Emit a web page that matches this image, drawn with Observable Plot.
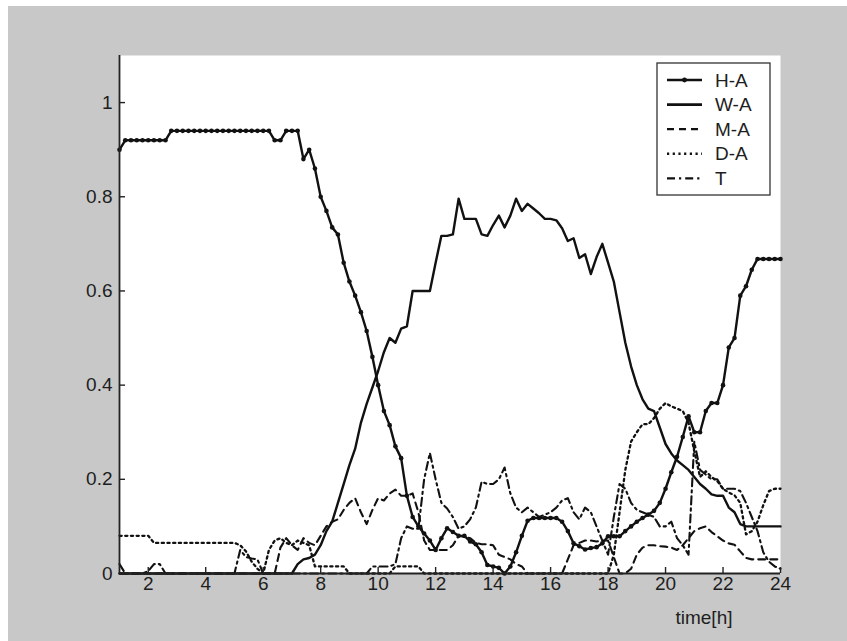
<!DOCTYPE html>
<html>
<head>
<meta charset="utf-8">
<script src="https://cdn.jsdelivr.net/npm/d3@7"></script>
<script src="https://cdn.jsdelivr.net/npm/@observablehq/plot@0.6"></script>
<style>
  html, body { margin: 0; padding: 0; background: #ffffff; }
  #fig { position: absolute; left: 0; top: 0; width: 847px; height: 641px; overflow: hidden; }
  #fig .bg { position: absolute; left: 8px; top: 6px; right: 0; bottom: 0; background: #c8c8c8; }
  #chart { position: absolute; left: 0; top: 0; }
</style>
</head>
<body>
<div id="fig"><div class="bg"></div><div id="chart"></div></div>
<script>
// Sample times: one reading every 12 minutes from 1 h to 24 h.
const time = d3.range(116).map(i => +(1 + i * 0.2).toFixed(1));

// Share of each activity over the day (five readings per hour, then 24.0).
const H_A = [
  0.90, 0.92, 0.92, 0.92, 0.92,
  0.92, 0.92, 0.92, 0.92, 0.94,
  0.94, 0.94, 0.94, 0.94, 0.94,
  0.94, 0.94, 0.94, 0.94, 0.94,
  0.94, 0.94, 0.94, 0.94, 0.94,
  0.94, 0.94, 0.92, 0.92, 0.94,
  0.94, 0.94, 0.88, 0.90, 0.86,
  0.80, 0.77, 0.735, 0.72, 0.66,
  0.62, 0.59, 0.555, 0.515, 0.46,
  0.40, 0.345, 0.315, 0.27, 0.245,
  0.165, 0.12, 0.10, 0.085, 0.07,
  0.05, 0.075, 0.096, 0.088, 0.08,
  0.08, 0.068, 0.062, 0.045, 0.018,
  0.015, 0.012, 0.0, 0.015, 0.045,
  0.08, 0.112, 0.118, 0.118, 0.118,
  0.118, 0.118, 0.11, 0.09, 0.064,
  0.058, 0.051, 0.054, 0.056, 0.064,
  0.079, 0.079, 0.079, 0.09, 0.10,
  0.11, 0.118, 0.125, 0.133, 0.15,
  0.18, 0.215, 0.248, 0.29, 0.334,
  0.30, 0.30, 0.345, 0.362, 0.362,
  0.40, 0.48, 0.50, 0.59, 0.61,
  0.645, 0.668, 0.668, 0.668, 0.668,
  0.668
];

const W_A = [
  0, 0, 0, 0, 0,
  0, 0, 0, 0, 0,
  0, 0, 0, 0, 0,
  0, 0, 0, 0, 0,
  0, 0, 0, 0, 0,
  0, 0, 0, 0, 0,
  0, 0.02, 0.03, 0.033, 0.04,
  0.06, 0.09, 0.11, 0.15, 0.19,
  0.23, 0.265, 0.32, 0.36, 0.395,
  0.43, 0.47, 0.50, 0.49, 0.52,
  0.525, 0.60, 0.60, 0.60, 0.60,
  0.66, 0.717, 0.717, 0.72, 0.796,
  0.753, 0.753, 0.753, 0.72, 0.717,
  0.74, 0.76, 0.735, 0.76, 0.796,
  0.77, 0.785, 0.775, 0.765, 0.753,
  0.753, 0.75, 0.733, 0.706, 0.712,
  0.67, 0.678, 0.636, 0.672, 0.70,
  0.66, 0.62, 0.555, 0.49, 0.44,
  0.40, 0.37, 0.35, 0.345, 0.31,
  0.275, 0.255, 0.24, 0.23, 0.22,
  0.205, 0.19, 0.18, 0.168, 0.165,
  0.165, 0.14, 0.13, 0.105, 0.10,
  0.10, 0.10, 0.10, 0.10, 0.10,
  0.10
];

const M_A = [
  0, 0, 0, 0, 0,
  0, 0, 0, 0, 0,
  0, 0, 0, 0, 0,
  0, 0, 0, 0, 0,
  0, 0, 0, 0, 0,
  0, 0, 0, 0.055, 0.075,
  0.06, 0.05, 0.075, 0.065, 0.06,
  0.08, 0.10, 0.11, 0.115, 0.135,
  0.15, 0.16, 0.13, 0.105, 0.135,
  0.16, 0.155, 0.17, 0.178, 0.165,
  0.165, 0.17, 0.13, 0.07, 0.05,
  0.05, 0.05, 0.05, 0.06, 0.08,
  0.078, 0.075, 0.065, 0.062, 0.062,
  0.06, 0.04, 0.035, 0.03, 0.02,
  0.015, 0, 0, 0, 0,
  0, 0, 0, 0.03, 0.06,
  0.065, 0.07, 0.07, 0.068, 0.07,
  0.07, 0.035, 0, 0, 0.01,
  0.04, 0.055, 0.06, 0.06, 0.058,
  0.057, 0.055, 0.05, 0.06, 0.075,
  0.09, 0.096, 0.10, 0.088, 0.079,
  0.07, 0.064, 0.061, 0.047, 0.033,
  0.03, 0.03, 0.03, 0.03, 0.03,
  0.03
];

const D_A = [
  0.08, 0.08, 0.08, 0.08, 0.08,
  0.08, 0.065, 0.065, 0.065, 0.065,
  0.065, 0.065, 0.065, 0.065, 0.065,
  0.065, 0.065, 0.065, 0.065, 0.065,
  0.065, 0.06, 0.047, 0.025, 0.01,
  0, 0.05, 0.07, 0.075, 0.065,
  0.06, 0.07, 0.065, 0.06, 0.015,
  0.015, 0.015, 0.015, 0.015, 0.015,
  0, 0, 0, 0, 0,
  0, 0, 0, 0.015, 0.015,
  0.015, 0.015, 0.015, 0, 0,
  0, 0, 0, 0, 0,
  0, 0, 0, 0, 0,
  0, 0, 0, 0, 0,
  0, 0, 0, 0, 0,
  0, 0, 0, 0, 0,
  0, 0, 0, 0, 0,
  0, 0.04, 0.13, 0.22, 0.28,
  0.30, 0.317, 0.317, 0.33, 0.35,
  0.362, 0.355, 0.35, 0.345, 0.32,
  0.26, 0.205, 0.217, 0.205, 0.196,
  0.18, 0.172, 0.166, 0.15, 0.083,
  0.09, 0.11, 0.145, 0.175, 0.18,
  0.18
];

const T = [
  0.02, 0, 0, 0, 0,
  0.005, 0.02, 0.02, 0, 0,
  0, 0, 0, 0, 0,
  0, 0, 0, 0, 0,
  0, 0.05, 0.035, 0.032, 0.03,
  0, 0, 0, 0, 0,
  0, 0, 0, 0, 0,
  0, 0, 0, 0, 0,
  0, 0, 0, 0, 0.015,
  0.015, 0.015, 0.015, 0.02, 0.075,
  0.10, 0.095, 0.095, 0.20, 0.256,
  0.20, 0.15, 0.138, 0.12, 0.095,
  0.10, 0.115, 0.14, 0.195, 0.19,
  0.19, 0.20, 0.225, 0.17, 0.14,
  0.13, 0.14, 0.13, 0.12, 0.125,
  0.13, 0.14, 0.155, 0.16, 0.13,
  0.115, 0.14, 0.13, 0.10, 0.07,
  0.04, 0.12, 0.19, 0.18, 0.15,
  0.135, 0.13, 0.125, 0.12, 0.10,
  0.10, 0.11, 0.075, 0.06, 0.04,
  0.28, 0.22, 0.21, 0.20, 0.20,
  0.18, 0.18, 0.18, 0.175, 0.15,
  0.12, 0.09, 0.045, 0.025, 0.015,
  0.01
];

const seriesNames = ["H-A", "W-A", "M-A", "D-A", "T"];
const xTicks = [2, 4, 6, 8, 10, 12, 14, 16, 18, 20, 22, 24];
const yTicks = [0, 0.2, 0.4, 0.6, 0.8, 1];
const yTickLabels = ["0", "0.2", "0.4", "0.6", "0.8", "1"];
const xLabel = "time[h]";

// Line styles per series
const styles = {
  "H-A": {dash: null, width: 2.4, marker: true},
  "W-A": {dash: null, width: 2.4, marker: false},
  "M-A": {dash: "7,5", width: 2.1, marker: false},
  "D-A": {dash: "2.2,3.5", width: 2.3, marker: false},
  "T":   {dash: "8,4,2.2,4", width: 2.1, marker: false}
};

const valuesByName = {"H-A": H_A, "W-A": W_A, "M-A": M_A, "D-A": D_A, "T": T};
const rowsFor = name => valuesByName[name].map((v, i) => ({t: time[i], v}));

const ink = "#111111";
const textInk = "#1e1e1e";
const font = "'Liberation Sans', Arial, sans-serif";
const fontPx = 19;
const drawOrder = ["D-A", "T", "M-A", "W-A", "H-A"];

const lineMarks = drawOrder.map(name => Plot.line(rowsFor(name), {
  x: "t", y: "v",
  stroke: ink,
  strokeWidth: styles[name].width,
  strokeDasharray: styles[name].dash,
  strokeLinejoin: "round"
}));

const chart = Plot.plot({
  width: 847,
  height: 641,
  marginLeft: 119,
  marginRight: 67,
  marginTop: 55,
  marginBottom: 68,
  style: {
    background: "transparent",
    fontFamily: font,
    fontSize: `${fontPx}px`,
    color: textInk
  },
  x: {domain: [1, 24]},
  y: {domain: [0, 1.1]},
  marks: [
    Plot.frame({fill: "white", stroke: null}),
    ...lineMarks,
    Plot.dot(rowsFor("H-A"), {x: "t", y: "v", r: 2.3, fill: ink, stroke: null}),
    Plot.ruleX([1], {stroke: "#222", strokeWidth: 1.8}),
    Plot.ruleY([0], {stroke: "#222", strokeWidth: 1.8}),
    Plot.axisY({
      ticks: yTicks, tickSize: 6, insetLeft: 6, tickPadding: 7,
      tickFormat: d => yTickLabels[yTicks.indexOf(d)], label: null,
      fontSize: fontPx, stroke: "#222", strokeWidth: 1.4
    }),
    Plot.axisX({
      ticks: xTicks, tickSize: 6, insetBottom: 6, tickPadding: 3,
      tickFormat: d => String(d), label: null,
      fontSize: fontPx, stroke: "#222", strokeWidth: 1.4
    }),
    Plot.text([xLabel], {
      text: d => d, frameAnchor: "bottom-right", dx: -48, dy: 50,
      textAnchor: "end", fontSize: fontPx, fill: textInk
    })
  ]
});

document.getElementById("chart").appendChild(chart);

// Legend box in the upper-right corner of the plotting area
const svg = d3.select(chart);
const lg = {x: 657, y: 63, w: 113, h: 132, row: 24.6};
const legend = svg.append("g").attr("class", "legend");
legend.append("rect")
  .attr("x", lg.x).attr("y", lg.y).attr("width", lg.w).attr("height", lg.h)
  .attr("fill", "white").attr("stroke", "#333").attr("stroke-width", 1.3);
seriesNames.forEach((name, i) => {
  const cy = lg.y + 17 + i * lg.row;
  const s = styles[name];
  legend.append("line")
    .attr("x1", lg.x + 10).attr("x2", lg.x + 45)
    .attr("y1", cy).attr("y2", cy)
    .attr("stroke", ink).attr("stroke-width", s.width + 0.2)
    .attr("stroke-dasharray", s.dash);
  if (s.marker) {
    legend.append("circle").attr("cx", lg.x + 27.5).attr("cy", cy).attr("r", 2.4).attr("fill", ink);
  }
  legend.append("text")
    .attr("x", lg.x + 58).attr("y", cy).attr("dy", "0.35em")
    .attr("text-anchor", "start")
    .attr("font-size", fontPx).attr("fill", textInk)
    .attr("font-family", font)
    .text(name);
});
</script>
</body>
</html>
